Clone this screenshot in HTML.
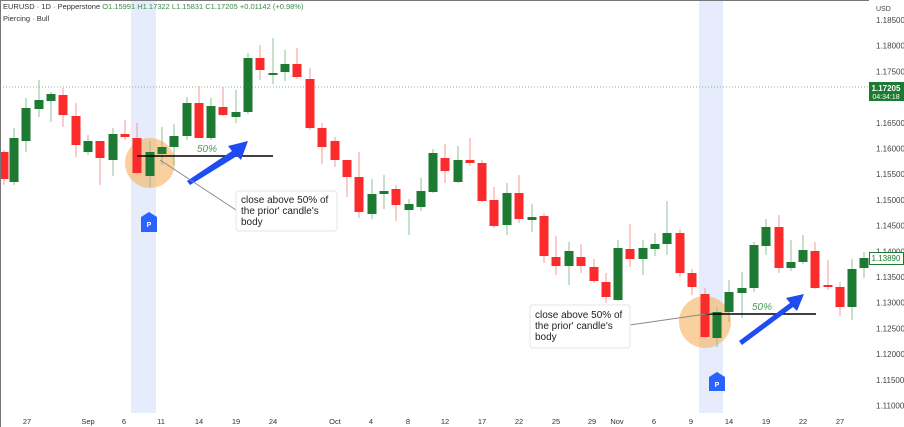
<!DOCTYPE html>
<html><head><meta charset="utf-8"><style>
html,body{margin:0;padding:0;background:#fff;width:904px;height:427px;overflow:hidden}
svg{display:block;font-family:"Liberation Sans",sans-serif}
</style></head><body>
<svg id="s" width="904" height="427" viewBox="0 0 904 427" xmlns="http://www.w3.org/2000/svg">
<rect x="0" y="0" width="904" height="427" fill="#fff"/>
<rect x="131" y="0" width="25" height="413" fill="#e6ecfc"/>
<rect x="699" y="0" width="24" height="413" fill="#e6ecfc"/>
<line x1="0" y1="87" x2="868" y2="87" stroke="#7fb58c" stroke-width="1" stroke-dasharray="1,2"/>
<circle cx="150" cy="163" r="25" fill="#f6b25e" fill-opacity="0.6"/>
<circle cx="705" cy="322" r="26" fill="#f6b25e" fill-opacity="0.6"/>
<g id="c"></g>
<line x1="137" y1="156" x2="273" y2="156" stroke="#000" stroke-width="1.5"/>
<line x1="705" y1="314" x2="816" y2="314" stroke="#000" stroke-width="1.5"/>
<text x="197" y="152" font-size="10" fill="#4c9a5a" font-style="italic">50%</text>
<text x="752" y="310" font-size="10" fill="#4c9a5a" font-style="italic">50%</text>
<polygon points="187,181 232,151 228,146 248,141 241,160 237,156 190,185" fill="#1e4cf2"/>
<polygon points="739,341 790,303 786,298 804,294 797,311 793,307 742,345" fill="#1e4cf2"/>
<line x1="160" y1="160" x2="236" y2="210" stroke="#888" stroke-width="1"/>
<line x1="630" y1="325" x2="713" y2="313" stroke="#888" stroke-width="1"/>
<rect x="236" y="191" width="101" height="40" rx="3" fill="#fff" stroke="#e4e4e4"/>
<text font-size="10" fill="#222"><tspan x="241" y="203">close above 50% of</tspan><tspan x="241" y="214">the prior' candle's</tspan><tspan x="241" y="225">body</tspan></text>
<rect x="530" y="305" width="100" height="43" rx="3" fill="#fff" stroke="#e4e4e4"/>
<text font-size="10" fill="#222"><tspan x="535" y="318">close above 50% of</tspan><tspan x="535" y="329">the prior' candle's</tspan><tspan x="535" y="340">body</tspan></text>
<path d="M141,217 L149,212 L157,217 L157,232 L141,232 Z" fill="#2962ff"/>
<text x="149" y="227" font-size="7" fill="#fff" text-anchor="middle" font-weight="bold">P</text>
<path d="M709,377 L717,372 L725,377 L725,391 L709,391 Z" fill="#2962ff"/>
<text x="717" y="387" font-size="7" fill="#fff" text-anchor="middle" font-weight="bold">P</text>
<line x1="0.5" y1="0" x2="0.5" y2="427" stroke="#777"/>
<line x1="0" y1="0.5" x2="904" y2="0.5" stroke="#777"/>
<rect x="869" y="0" width="35" height="413" fill="#fff"/>
<g id="ax" font-size="8" fill="#444"></g>
<text x="876" y="11" font-size="7" fill="#444">USD</text>
<rect x="869" y="82" width="35" height="19" fill="#1c7a32"/>
<text x="886" y="91" font-size="8" fill="#fff" text-anchor="middle" font-weight="bold">1.17205</text>
<text x="886" y="99" font-size="7" fill="#fff" text-anchor="middle">04:34:18</text>
<rect x="869.5" y="252.5" width="34" height="12" fill="#fff" stroke="#1c7a32"/>
<text x="886" y="261" font-size="8" fill="#1c7a32" text-anchor="middle">1.13890</text>
<text x="3" y="9" font-size="7.5" fill="#333">EURUSD · 1D · Pepperstone  <tspan fill="#3a8a4a">O1.15991  H1.17322  L1.15831  C1.17205  +0.01142 (+0.98%)</tspan></text>
<text x="3" y="21" font-size="7.5" fill="#333">Piercing · Bull</text>
<g id="xl" font-size="7.5" fill="#333" text-anchor="middle"></g>
</svg>
<script>
var d=[[4,'r',152,179,150,185],[14,'g',182,138,128,185],[26,'g',141,108,98,152],[39,'g',109,100,80,117],[51,'g',101,94,92,122],[63,'r',95,115,88,127],[76,'r',116,145,103,157],[88,'g',152,141,135,155],[100,'r',141,158,141,185],[113,'g',160,134,128,176],[125,'r',134,137,120,140],[137,'r',138,173,123,175],[150,'g',176,152,141,187],[162,'g',154,147,127,165],[174,'g',147,136,124,165],[187,'g',136,103,97,140],[199,'r',103,138,86,138],[211,'g',138,106,98,140],[223,'r',107,115,87,116],[236,'g',117,112,90,123],[248,'g',112,58,53,114],[260,'r',58,70,45,80],[273,'g',75,73,38,84],[285,'g',72,64,50,81],[297,'r',64,77,48,79],[310,'r',79,128,68,130],[322,'r',128,147,123,164],[335,'r',141,160,137,167],[347,'r',160,177,160,197],[359,'r',177,212,152,218],[372,'g',214,194,179,219],[384,'g',194,191,175,209],[396,'r',189,205,185,221],[409,'g',210,204,199,235],[421,'g',207,191,178,211],[433,'g',192,153,149,193],[445,'r',158,171,144,183],[458,'g',182,160,146,183],[470,'r',160,163,138,166],[482,'r',163,201,160,202],[494,'r',200,226,187,228],[507,'g',225,193,183,235],[519,'r',193,219,175,223],[532,'g',220,217,204,232],[544,'r',216,256,213,263],[556,'r',257,266,236,275],[569,'g',266,251,242,285],[581,'r',257,266,244,273],[594,'r',267,281,259,283],[606,'r',282,297,273,303],[618,'g',300,248,240,301],[630,'r',249,259,224,267],[643,'g',259,248,240,275],[655,'g',249,244,233,256],[667,'g',244,233,201,255],[680,'r',233,273,229,277],[692,'r',273,287,269,295],[705,'r',294,337,288,338],[717,'g',338,312,307,347],[729,'g',312,292,280,322],[742,'g',293,288,272,318],[754,'g',288,245,242,292],[766,'g',246,227,219,255],[779,'r',227,268,215,273],[791,'g',268,262,240,271],[803,'g',262,250,235,264],[815,'r',251,288,242,289],[828,'r',285,287,260,290],[840,'r',287,307,282,316],[852,'g',307,269,259,320],[864,'g',268,258,252,278]];
var h='';
d.forEach(function(c){var col=c[1]=='g'?'#1c7a32':'#fb2b2b',wc=c[1]=='g'?'#8fc19a':'#f7999a';var t=Math.min(c[2],c[3]),b=Math.max(c[2],c[3]);
h+='<line x1="'+c[0]+'" x2="'+c[0]+'" y1="'+c[4]+'" y2="'+c[5]+'" stroke="'+wc+'" stroke-width="1"/>';
h+='<rect x="'+(c[0]-4.5)+'" y="'+t+'" width="9" height="'+Math.max(b-t,2)+'" fill="'+col+'"/>';});
document.getElementById('c').innerHTML=h;
var a='';for(var i=0;i<16;i++){var p=(1.185-i*0.005).toFixed(5);var y=20+i*25.7;if(Math.abs(y-87)<10||Math.abs(y-258)<6)continue;a+='<text x="876" y="'+(y+3)+'">'+p+'</text>';}
document.getElementById('ax').innerHTML=a;
var xl=[[27,'27'],[88,'Sep'],[124,'6'],[161,'11'],[199,'14'],[236,'19'],[273,'24'],[335,'Oct'],[371,'4'],[408,'8'],[445,'12'],[482,'17'],[519,'22'],[556,'25'],[592,'29'],[617,'Nov'],[654,'6'],[691,'9'],[729,'14'],[766,'19'],[803,'22'],[840,'27']];
var s='';xl.forEach(function(l){s+='<text x="'+l[0]+'" y="424">'+l[1]+'</text>';});
document.getElementById('xl').innerHTML=s;
</script>
</body></html>
